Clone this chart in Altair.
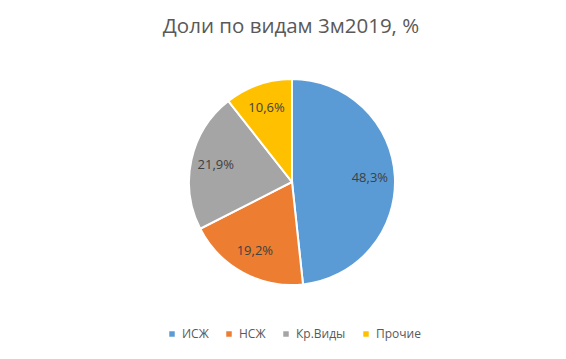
import altair as alt
import pandas as pd

categories = ["ИСЖ", "НСЖ", "Кр.Виды", "Прочие"]
shares = [48.3, 19.2, 21.9, 10.6]
labels = ["48,3%", "19,2%", "21,9%", "10,6%"]
colors = ["#5B9BD5", "#ED7D31", "#A5A5A5", "#FFC000"]

df = pd.DataFrame({
    "cat": categories,
    "share": shares,
    "label": labels,
    "idx": list(range(len(categories))),
})

CX, CY = 284, 145

base = alt.Chart(df).encode(
    theta=alt.Theta("share:Q", stack=True),
    order=alt.Order("idx:O"),
)

pie = base.mark_arc(stroke="white", strokeWidth=2, outerRadius=103).encode(
    x=alt.value(CX), y=alt.value(CY),
    color=alt.Color(
        "cat:N",
        scale=alt.Scale(domain=categories, range=colors),
        legend=alt.Legend(
            orient="none", direction="horizontal", title=None,
            legendX=158, legendY=291,
            symbolType="square", symbolSize=30, symbolStrokeWidth=0,
            labelFontSize=12, labelColor="#595959", labelFont="Open Sans",
            columnPadding=14, labelOffset=4,
        ),
        sort=categories,
    ),
)

text = base.mark_text(radius=78, fontSize=13, font="Open Sans", color="#404040").encode(
    x=alt.value(CX), y=alt.value(CY),
    text="label:N",
)

chart = (pie + text).properties(
    width=550, height=315,
    padding={"top": 8, "left": 0, "right": 0, "bottom": 0},
    title=alt.TitleParams(
        "Доли по видам 3м2019, %", fontSize=20.5, font="Open Sans",
        fontWeight="normal", color="#595959", anchor="middle", dx=8, offset=0,
    ),
).configure_view(stroke=None)

chart.save("out.html", embed_options={"renderer": "svg", "actions": False})
